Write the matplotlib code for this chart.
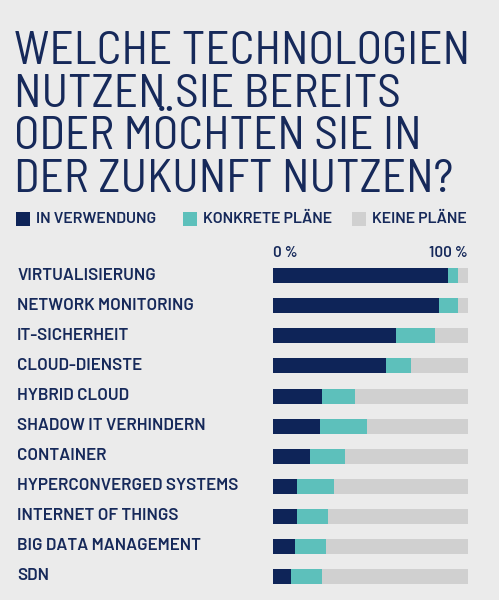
import matplotlib.pyplot as plt
from matplotlib import transforms
from matplotlib.patches import Rectangle

# Daten (Anteil in %)
kategorien = ["VIRTUALISIERUNG", "NETWORK MONITORING", "IT-SICHERHEIT", "CLOUD-DIENSTE",
              "HYBRID CLOUD", "SHADOW IT VERHINDERN", "CONTAINER", "HYPERCONVERGED SYSTEMS",
              "INTERNET OF THINGS", "BIG DATA MANAGEMENT", "SDN"]
in_verwendung = [90, 85, 63, 58, 25, 24, 19, 12, 12, 11, 9]
konkrete_plaene = [5, 10, 20, 13, 17, 24, 18, 19, 16, 16, 16]
keine_plaene = [100 - a - b for a, b in zip(in_verwendung, konkrete_plaene)]
serien = ["IN VERWENDUNG", "KONKRETE PLÄNE", "KEINE PLÄNE"]

fond = '#ebebeb'
navy = '#0e2458'
teal = '#5dc0bb'
grau = '#d0d0d0'
textfarbe = '#16295a'
schrift = 'Barlow'
titelschrift = 'Barlow Semi Condensed'

W, H = 499, 600
fig = plt.figure(figsize=(W / 100, H / 100), dpi=100, facecolor=fond)


def fx(px):
    return px / W


def fy(py):
    return 1 - py / H


# Titel
titel = ["WELCHE TECHNOLOGIEN", "NUTZEN SIE BEREITS", "ODER MÖCHTEN SIE IN", "DER ZUKUNFT NUTZEN?"]
for i, zeile in enumerate(titel):
    fig.text(fx(14), fy(64 + i * 42.7), zeile, family=titelschrift, weight='normal',
             fontsize=34, color=textfarbe, va='baseline', ha='left')

# Legende
legende_x = [16, 182.7, 351.7]
for x, name, farbe in zip(legende_x, serien, [navy, teal, grau]):
    fig.patches.append(Rectangle((fx(x), fy(226)), 14 / W, 14 / H, transform=fig.transFigure,
                                 facecolor=farbe, edgecolor='none'))
    fig.text(fx(x + 20), fy(219), name, family=schrift, weight='semibold', fontsize=11.4,
             color=textfarbe, va='center', ha='left')

# Balken
ax = fig.add_axes([fx(273.3), fy(591), 194.4 / W, 330 / H])
ax.set_facecolor(fond)
y = range(len(kategorien))
ax.barh(y, in_verwendung, height=0.5, color=navy)
ax.barh(y, konkrete_plaene, left=in_verwendung, height=0.5, color=teal)
links = [a + b for a, b in zip(in_verwendung, konkrete_plaene)]
ax.barh(y, keine_plaene, left=links, height=0.5, color=grau)
ax.set_xlim(0, 100)
ax.set_ylim(len(kategorien) - 0.5, -0.5)

for s in ax.spines.values():
    s.set_visible(False)
ax.set_yticks([])
ax.set_xticks([0, 100], ['0 %', '100 %'])
ax.tick_params(axis='x', top=True, bottom=False, labeltop=True, labelbottom=False,
               length=0, pad=1, labelcolor=textfarbe)
xl = ax.get_xticklabels()
for lab in xl:
    lab.set_family(schrift)
    lab.set_weight('semibold')
    lab.set_fontsize(11)
xl[0].set_ha('left')
xl[1].set_ha('right')

# Kategorienamen
trans = transforms.blended_transform_factory(fig.transFigure, ax.transData)
for i, name in enumerate(kategorien):
    ax.text(fx(17), i, name, transform=trans, family=schrift, weight='semibold',
            fontsize=12.2, color=textfarbe, va='center', ha='left')

fig.savefig('out.png', facecolor=fond)
